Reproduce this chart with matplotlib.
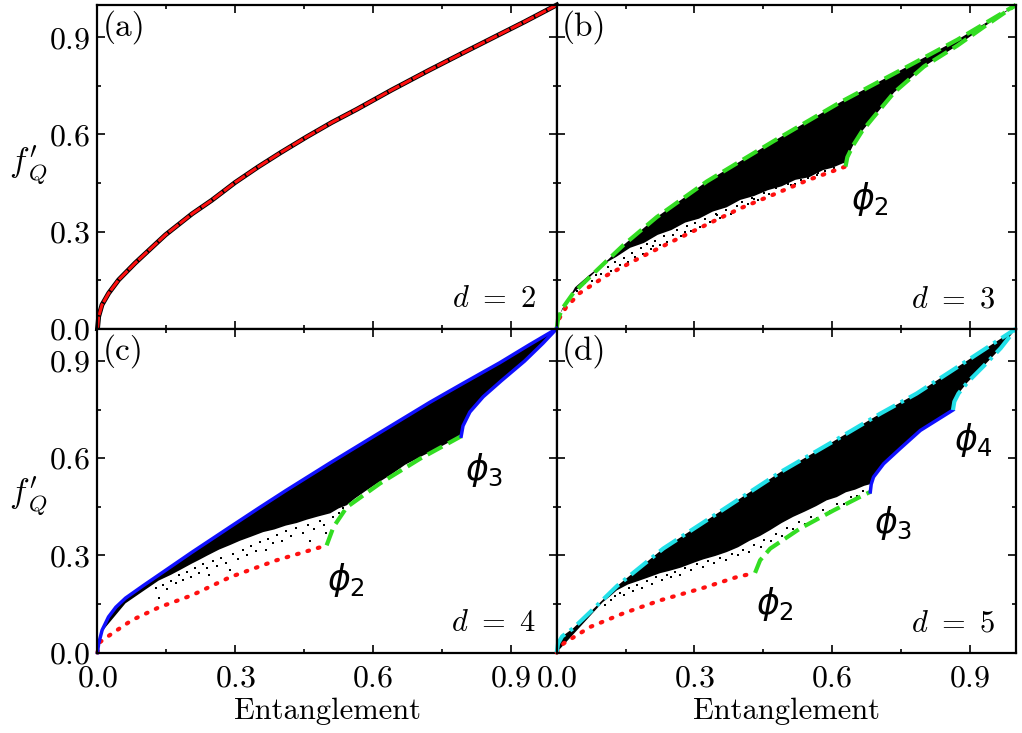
import numpy as np
import matplotlib
matplotlib.use('Agg')
import matplotlib.pyplot as plt
from matplotlib.ticker import MultipleLocator

plt.rcParams['font.family'] = 'serif'
plt.rcParams['font.serif'] = ['cmr10', 'DejaVu Serif']
plt.rcParams['mathtext.fontset'] = 'cm'
plt.rcParams['axes.formatter.use_mathtext'] = True

RED = '#ff1010'
GREEN = '#33dd22'
BLUE = '#1010ff'
CYAN = '#22e0e8'

# ---------------- data ----------------
# (a) d = 2
a_E = [0.0, 0.0026, 0.0098, 0.0244, 0.046, 0.082, 0.148, 0.206, 0.249, 0.30, 0.35, 0.40,
       0.456, 0.51, 0.565, 0.64, 0.72, 0.80, 0.86, 0.93, 1.0]
a_f = [0.0, 0.038, 0.074, 0.11, 0.151, 0.203, 0.29, 0.355, 0.397, 0.452, 0.50, 0.545,
       0.593, 0.637, 0.678, 0.737, 0.797, 0.855, 0.898, 0.948, 1.0]

# (b) d = 3
b_up_E = [0.0, 0.003, 0.012, 0.036, 0.087, 0.145, 0.218, 0.327, 0.473, 0.618, 0.764, 0.873, 1.0]
b_up_f = [0.0, 0.03, 0.062, 0.11, 0.18, 0.258, 0.345, 0.455, 0.58, 0.70, 0.81, 0.893, 1.0]
b_br_E = [0.629, 0.633, 0.645, 0.665, 0.691, 0.735, 0.8, 0.873, 0.93, 1.0]
b_br_f = [0.501, 0.53, 0.565, 0.61, 0.655, 0.73, 0.81, 0.875, 0.932, 1.0]
b_low_E = [0.0, 0.004, 0.02, 0.05, 0.109, 0.182, 0.255, 0.327, 0.4, 0.473, 0.545, 0.629]
b_low_f = [0.0, 0.028, 0.065, 0.11, 0.165, 0.22, 0.272, 0.322, 0.372, 0.415, 0.458, 0.501]
b_edge_E = [0.625, 0.60, 0.58, 0.55, 0.52, 0.49, 0.46, 0.43, 0.40, 0.37, 0.34, 0.31, 0.28,
            0.25, 0.22, 0.19, 0.16, 0.13, 0.10, 0.07, 0.04, 0.007]
b_edge_f = [0.512, 0.497, 0.49, 0.468, 0.46, 0.44, 0.428, 0.41, 0.398, 0.375, 0.362, 0.34, 0.328,
            0.305, 0.29, 0.265, 0.25, 0.222, 0.198, 0.165, 0.128, 0.045]
b_pts_E = [0.045, 0.062, 0.078, 0.085, 0.097, 0.112, 0.118, 0.127, 0.138, 0.146, 0.155, 0.163,
           0.171, 0.183, 0.188, 0.197, 0.205, 0.214, 0.226, 0.233, 0.241, 0.253, 0.262, 0.271,
           0.284, 0.292, 0.301, 0.313, 0.322, 0.334, 0.347, 0.356, 0.368, 0.379, 0.392, 0.404,
           0.417, 0.426, 0.438, 0.452, 0.463, 0.478, 0.49, 0.503, 0.518, 0.533, 0.548, 0.566,
           0.585, 0.603, 0.21, 0.28, 0.35, 0.43, 0.51, 0.57]
b_pts_f = [0.118, 0.14, 0.148, 0.165, 0.17, 0.19, 0.178, 0.205, 0.196, 0.218, 0.205, 0.235,
           0.222, 0.248, 0.232, 0.262, 0.245, 0.27, 0.258, 0.285, 0.268, 0.29, 0.305, 0.287,
           0.318, 0.302, 0.328, 0.315, 0.34, 0.33, 0.355, 0.342, 0.366, 0.355, 0.38, 0.393,
           0.385, 0.405, 0.398, 0.42, 0.415, 0.435, 0.428, 0.447, 0.448, 0.46, 0.466, 0.475,
           0.486, 0.497, 0.255, 0.3, 0.35, 0.4, 0.445, 0.48]

# (c) d = 4
c_up_E = [0.0, 0.0026, 0.01, 0.024, 0.04, 0.061, 0.1, 0.133, 0.206, 0.289, 0.35, 0.41, 0.507,
          0.61, 0.724, 0.797, 0.876, 0.94, 1.0]
c_up_f = [0.0, 0.028, 0.069, 0.11, 0.14, 0.168, 0.207, 0.239, 0.31, 0.388, 0.445, 0.50, 0.586,
          0.675, 0.773, 0.832, 0.895, 0.95, 1.0]
c_br_E = [0.792, 0.796, 0.811, 0.84, 0.88, 0.93, 0.97, 1.0]
c_br_f = [0.668, 0.70, 0.743, 0.79, 0.84, 0.9, 0.955, 1.0]
c_mid_E = [0.499, 0.514, 0.543, 0.615, 0.703, 0.792]
c_mid_f = [0.331, 0.388, 0.449, 0.522, 0.599, 0.668]
c_low_E = [0.0, 0.006, 0.032, 0.075, 0.133, 0.206, 0.289, 0.39, 0.499]
c_low_f = [0.0, 0.033, 0.059, 0.10, 0.139, 0.177, 0.233, 0.285, 0.331]
c_edge_E = [0.792, 0.76, 0.74, 0.703, 0.67, 0.64, 0.615, 0.585, 0.56, 0.543, 0.525, 0.507,
            0.48, 0.455, 0.434, 0.41, 0.385, 0.361, 0.335, 0.31, 0.289, 0.265, 0.24, 0.22,
            0.206, 0.18, 0.16, 0.133, 0.1, 0.061, 0.01]
c_edge_f = [0.668, 0.645, 0.63, 0.604, 0.58, 0.55, 0.528, 0.50, 0.475, 0.455, 0.445, 0.43,
            0.42, 0.41, 0.40, 0.392, 0.38, 0.372, 0.358, 0.345, 0.332, 0.318, 0.30, 0.285,
            0.275, 0.255, 0.24, 0.222, 0.19, 0.152, 0.065]
c_pts_E = [0.128, 0.133, 0.142, 0.152, 0.161, 0.17, 0.178, 0.186, 0.195, 0.203, 0.212, 0.221,
           0.229, 0.238, 0.242, 0.252, 0.261, 0.27, 0.279, 0.288, 0.296, 0.305, 0.316, 0.326,
           0.334, 0.345, 0.353, 0.366, 0.372, 0.383, 0.391, 0.402, 0.411, 0.422, 0.433, 0.447,
           0.458, 0.462, 0.471, 0.484, 0.493, 0.498, 0.512, 0.525, 0.535]
c_pts_f = [0.198, 0.167, 0.21, 0.196, 0.222, 0.215, 0.238, 0.225, 0.25, 0.232, 0.26, 0.247,
           0.272, 0.26, 0.238, 0.282, 0.268, 0.293, 0.278, 0.255, 0.304, 0.29, 0.318, 0.302,
           0.33, 0.315, 0.342, 0.316, 0.35, 0.337, 0.362, 0.345, 0.375, 0.36, 0.385, 0.37,
           0.393, 0.345, 0.382, 0.405, 0.395, 0.37, 0.418, 0.43, 0.445]

# (d) d = 5
d_up_E = [0.0, 0.003, 0.012, 0.036, 0.073, 0.131, 0.232, 0.35, 0.487, 0.60, 0.705,
          0.784, 0.86, 0.93, 1.0]
d_up_f = [0.0, 0.028, 0.05, 0.075, 0.125, 0.205, 0.321, 0.43, 0.557, 0.65, 0.738,
          0.80, 0.87, 0.935, 1.0]
d_br_E = [0.863, 0.866, 0.875, 0.895, 0.93, 0.967, 1.0]
d_br_f = [0.749, 0.775, 0.80, 0.835, 0.885, 0.94, 1.0]
d_b3_E = [0.683, 0.685, 0.69, 0.712, 0.748, 0.792, 0.863]
d_b3_f = [0.496, 0.52, 0.542, 0.583, 0.63, 0.686, 0.749]
d_mid_E = [0.432, 0.443, 0.465, 0.53, 0.603, 0.668, 0.683]
d_mid_f = [0.246, 0.285, 0.321, 0.383, 0.439, 0.486, 0.496]
d_low_E = [0.0, 0.015, 0.073, 0.145, 0.225, 0.32, 0.392, 0.432]
d_low_f = [0.0, 0.028, 0.079, 0.121, 0.161, 0.20, 0.233, 0.246]
d_edge_E = [0.683, 0.67, 0.65, 0.63, 0.61, 0.588, 0.565, 0.54, 0.515, 0.49, 0.465, 0.443,
            0.42, 0.395, 0.37, 0.345, 0.32, 0.3, 0.27, 0.245, 0.225, 0.2, 0.18, 0.155,
            0.131, 0.115, 0.1]
d_edge_f = [0.52, 0.515, 0.503, 0.495, 0.48, 0.47, 0.452, 0.435, 0.419, 0.40, 0.378, 0.36,
            0.345, 0.325, 0.31, 0.298, 0.288, 0.278, 0.262, 0.252, 0.245, 0.232, 0.222, 0.21,
            0.192, 0.172, 0.155]
d_pts_E = [0.105, 0.118, 0.127, 0.138, 0.146, 0.157, 0.166, 0.175, 0.186, 0.196, 0.207, 0.216,
           0.229, 0.241, 0.25, 0.258, 0.268, 0.28, 0.293, 0.305, 0.318, 0.33, 0.343, 0.356,
           0.368, 0.381, 0.394, 0.405, 0.418, 0.43, 0.444, 0.452, 0.466, 0.477, 0.49, 0.502,
           0.515, 0.528, 0.54, 0.553, 0.566, 0.58, 0.595, 0.61, 0.625, 0.64, 0.655, 0.668]
d_pts_f = [0.148, 0.162, 0.175, 0.185, 0.178, 0.198, 0.19, 0.21, 0.2, 0.222, 0.212, 0.232,
           0.225, 0.24, 0.232, 0.249, 0.24, 0.26, 0.255, 0.272, 0.265, 0.282, 0.276, 0.293,
           0.285, 0.305, 0.3, 0.318, 0.31, 0.333, 0.327, 0.348, 0.345, 0.365, 0.36, 0.385,
           0.38, 0.402, 0.398, 0.42, 0.415, 0.44, 0.438, 0.46, 0.458, 0.48, 0.483, 0.5]

dotted = dict(color=RED, lw=3, linestyle=(0, (0.4, 2.2)), dash_capstyle='round', clip_on=False)
dashed = dict(color=GREEN, lw=3, linestyle=(0, (4, 1.6)), clip_on=False)
solid = dict(color=BLUE, lw=2.5, clip_on=False)
dashdot = dict(color=CYAN, lw=3, linestyle=(0, (5, 1.5, 0.8, 1.5)), clip_on=False)
pts = dict(s=4, marker='s', color='black', lw=0)

fig, axs = plt.subplots(2, 2, figsize=(10.22, 7.33), dpi=100, sharex=True, sharey=True)
plt.subplots_adjust(left=0.0954, right=0.994, top=0.9932, bottom=0.1098, wspace=0, hspace=0)
axA, axB, axC, axD = axs[0, 0], axs[0, 1], axs[1, 0], axs[1, 1]

# (a)
axA.plot(a_E, a_f, color='black', lw=3.5, clip_on=False)
axA.plot(a_E, a_f, color=RED, lw=2.2, linestyle=(0, (4, 0.5)), clip_on=False)

# (b)
axB.fill(b_up_E + b_br_E[::-1] + b_edge_E, b_up_f + b_br_f[::-1] + b_edge_f, color='black', lw=0)
axB.scatter(b_pts_E, b_pts_f, **pts)
axB.plot(b_low_E, b_low_f, **dotted)
axB.plot(b_up_E, b_up_f, **dashed)
axB.plot(b_br_E, b_br_f, **dashed)

# (c)
axC.fill(c_up_E + c_br_E[::-1] + c_edge_E, c_up_f + c_br_f[::-1] + c_edge_f, color='black', lw=0)
axC.scatter(c_pts_E, c_pts_f, **pts)
axC.plot(c_low_E, c_low_f, **dotted)
axC.plot(c_mid_E, c_mid_f, **dashed)
axC.plot(c_up_E, c_up_f, **solid)
axC.plot(c_br_E, c_br_f, **solid)

# (d)
axD.fill(d_up_E + d_br_E[::-1] + d_b3_E[::-1] + d_edge_E,
         d_up_f + d_br_f[::-1] + d_b3_f[::-1] + d_edge_f, color='black', lw=0)
axD.scatter(d_pts_E, d_pts_f, **pts)
axD.plot(d_low_E, d_low_f, **dotted)
axD.plot(d_mid_E, d_mid_f, **dashed)
axD.plot(d_b3_E, d_b3_f, **solid)
axD.plot(d_up_E, d_up_f, **dashdot)
axD.plot(d_br_E, d_br_f, **dashdot)

# phi labels
phi_kw = dict(fontsize=25, math_fontfamily='dejavusans', ha='left', va='center')
axB.text(0.64, 0.40, r'$\phi_{\mathit{2}}$', **phi_kw)
axC.text(0.50, 0.225, r'$\phi_{\mathit{2}}$', **phi_kw)
axC.text(0.80, 0.565, r'$\phi_{\mathit{3}}$', **phi_kw)
axD.text(0.435, 0.15, r'$\phi_{\mathit{2}}$', **phi_kw)
axD.text(0.69, 0.40, r'$\phi_{\mathit{3}}$', **phi_kw)
axD.text(0.865, 0.655, r'$\phi_{\mathit{4}}$', **phi_kw)

for ax, tag, d in zip([axA, axB, axC, axD], ['(a)', '(b)', '(c)', '(d)'], [2, 3, 4, 5]):
    ax.set_xlim(0, 1)
    ax.set_ylim(0, 1)
    ax.xaxis.set_major_locator(MultipleLocator(0.3))
    ax.yaxis.set_major_locator(MultipleLocator(0.3))
    ax.xaxis.set_minor_locator(MultipleLocator(0.15))
    ax.yaxis.set_minor_locator(MultipleLocator(0.15))
    ax.tick_params(which='both', direction='in', top=True, right=True, labelsize=23, width=1.2)
    ax.tick_params(which='major', length=6)
    ax.tick_params(axis='y', which='major', pad=5)
    ax.tick_params(axis='x', which='major', pad=9)
    ax.tick_params(which='minor', length=3)
    for s in ax.spines.values():
        s.set_linewidth(1.6)
    ax.text(0.012, 0.985, tag, transform=ax.transAxes, fontsize=24, ha='left', va='top')
    ax.text(0.955, 0.09, r'$d\ =\ %d$' % d, transform=ax.transAxes, fontsize=22,
            ha='right', va='center')

for ax in [axA, axC]:
    ax.set_ylabel(r"$f^{\prime}_{\,Q}$", fontsize=24, rotation=0)
axA.yaxis.set_label_coords(-0.15, 0.44)
axC.yaxis.set_label_coords(-0.15, 0.42)
for ax in [axC, axD]:
    ax.set_xlabel('Entanglement', fontsize=22, labelpad=4)

plt.savefig('out.png', dpi=100)
